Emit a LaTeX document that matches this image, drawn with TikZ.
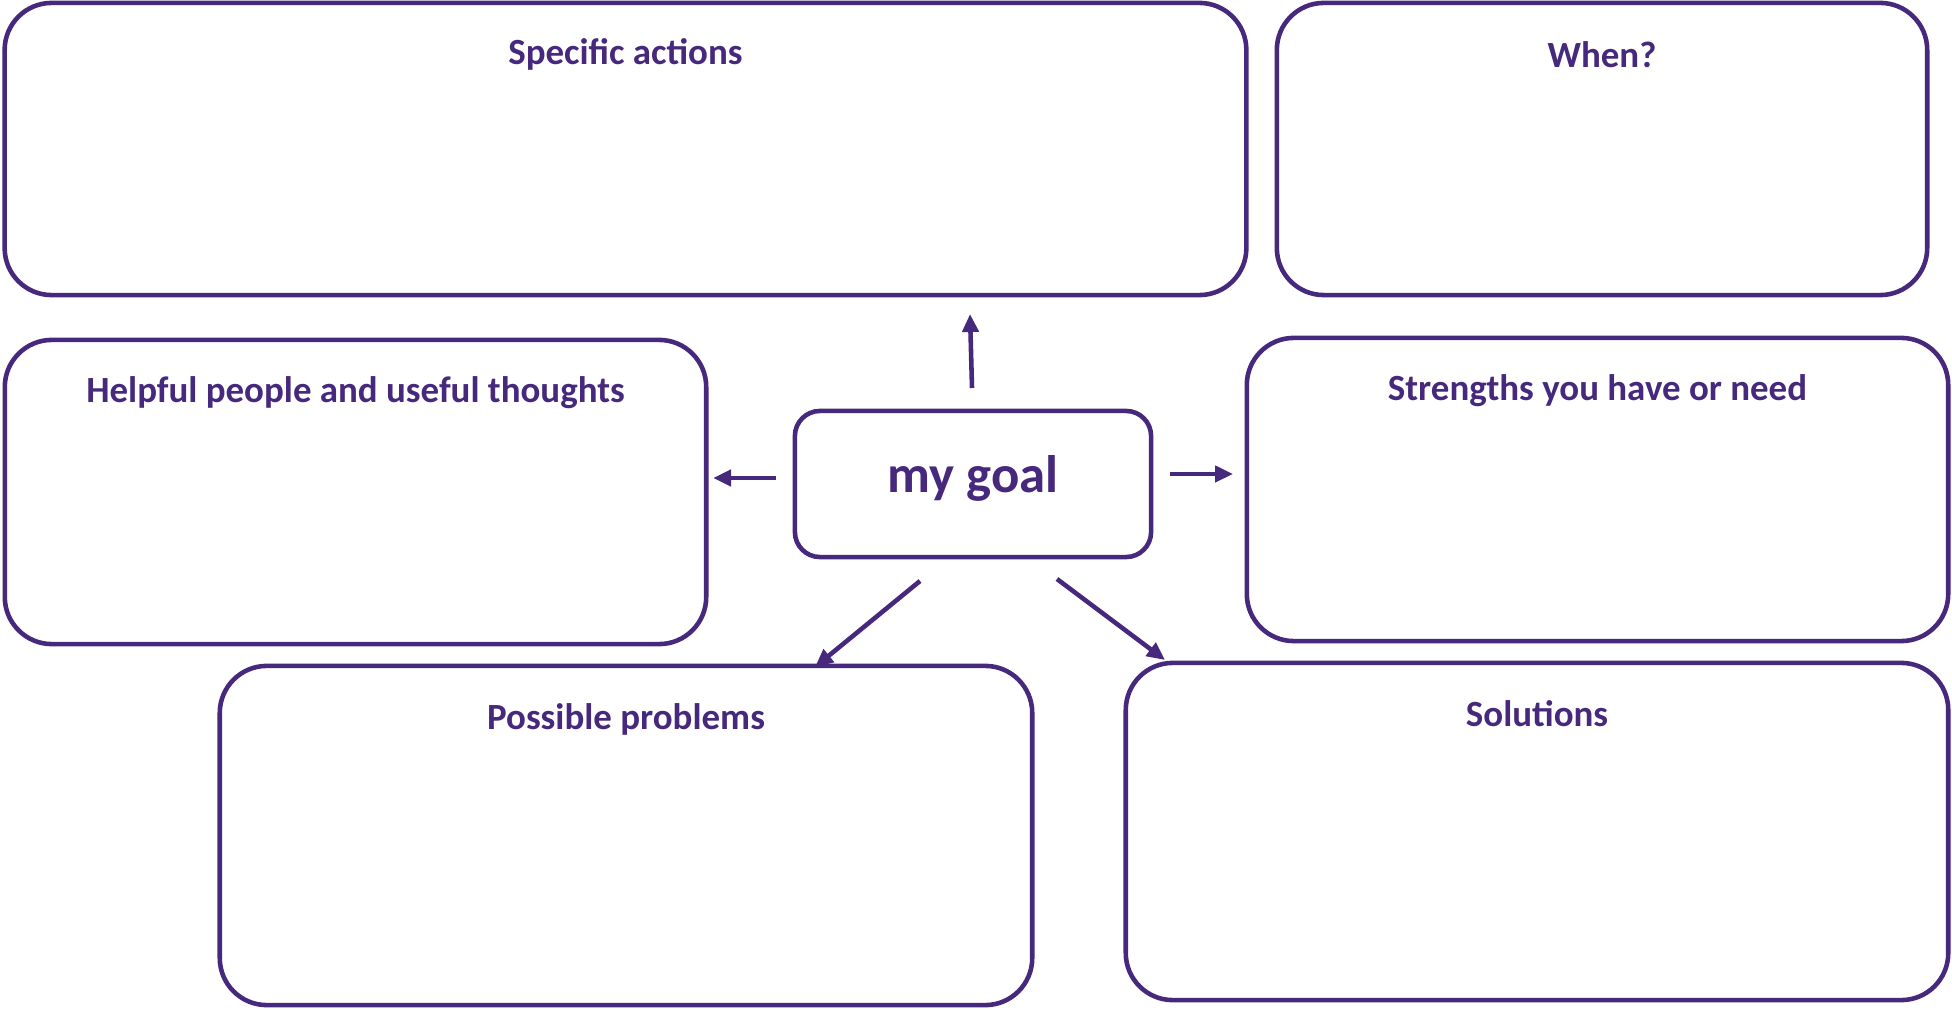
\documentclass[tikz,border=0pt]{standalone}
\usepackage{fontspec}
\setmainfont{Carlito}
\usetikzlibrary{arrows.meta}
\definecolor{gp}{RGB}{70,40,124}
\tikzset{
  box/.style={draw=gp, line width=1.3pt, rounded corners=0.47cm, inner sep=0pt},
  goalbox/.style={draw=gp, line width=1.3pt, rounded corners=0.25cm, inner sep=0pt,
    minimum width=3.56cm, minimum height=1.46cm},
  goaltext/.style={text=gp, font=\fontsize{15}{18}\selectfont\bfseries, inner sep=0pt},
  title/.style={text=gp, font=\fontsize{10.5}{12.5}\selectfont\bfseries, inner sep=0pt},
  arr/.style={draw=gp, line width=1.3pt, -{Triangle[length=0.18cm,width=0.16cm]}}
}
\begin{document}
\begin{tikzpicture}[x=0.01cm,y=-0.01cm]
\useasboundingbox (0,0) rectangle (1952,1010);
% boxes
\node[box, minimum width=12.41cm, minimum height=2.92cm] (spec) at (625.5,149) {};
\node[box, minimum width=6.50cm, minimum height=2.92cm] (when) at (1602,149) {};
\node[box, minimum width=7.01cm, minimum height=3.04cm] (help) at (355.5,492) {};
\node[box, minimum width=7.01cm, minimum height=3.03cm] (str) at (1597.5,489.5) {};
\node[box, minimum width=8.12cm, minimum height=3.39cm] (prob) at (626,835.5) {};
\node[box, minimum width=8.22cm, minimum height=3.37cm] (sol) at (1537,831.5) {};
\node[goalbox] (goal) at (973,484) {};
\node[goaltext] (tgoal) at ([yshift=0.06cm]goal.center) {my goal};
% titles
\node[title] (tspec) at ([yshift=-0.54cm]spec.north) {Specific actions};
\node[title] (twhen) at ([yshift=-0.54cm]when.north) {When?};
\node[title] (thelp) at ([yshift=-0.55cm]help.north) {Helpful people and useful thoughts};
\node[title] (tstr) at ([yshift=-0.55cm]str.north) {Strengths you have or need};
\node[title] (tprob) at ([yshift=-0.56cm]prob.north) {Possible problems};
\node[title] (tsol) at ([yshift=-0.53cm]sol.north) {Solutions};
% arrow end points
\coordinate (uA) at (972,388); \coordinate (uB) at (970,314);
\coordinate (lA) at (776,478); \coordinate (lB) at (713,478);
\coordinate (rA) at (1170,474); \coordinate (rB) at (1233,474);
\coordinate (dlA) at (920,581); \coordinate (dlB) at (815,667);
\coordinate (drA) at (1057,579); \coordinate (drB) at (1165,660);
\draw[arr] (uA) -- (uB);
\draw[arr] (lA) -- (lB);
\draw[arr] (rA) -- (rB);
\draw[arr] (dlA) -- (dlB);
\draw[arr] (drA) -- (drB);
\end{tikzpicture}
\end{document}
